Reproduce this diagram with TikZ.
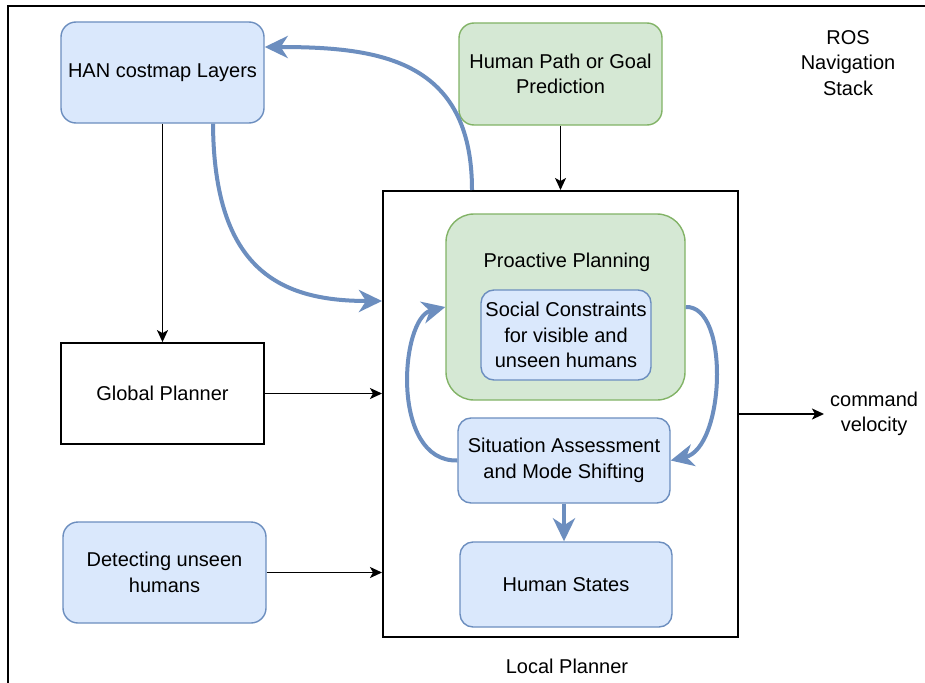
\documentclass[tikz,border=0pt]{standalone}
\usepackage{fontspec}
\setmainfont{Liberation Sans}
\usetikzlibrary{arrows.meta}
\definecolor{bfill}{HTML}{DAE8FC}
\definecolor{bdraw}{HTML}{6C8EBF}
\definecolor{gfill}{HTML}{D5E8D4}
\definecolor{gdraw}{HTML}{82B366}
\begin{document}
\begin{tikzpicture}[x=1pt,y=-1pt,
  every node/.style={font=\fontsize{20}{25.5}\selectfont, align=center, inner sep=0pt},
  box/.style={draw, line width=1.4pt, minimum width=#1},
  bluebox/.style={box=#1, fill=bfill, draw=bdraw, rounded corners=15pt},
  greenbox/.style={box=#1, fill=gfill, draw=gdraw, rounded corners=15pt},
  plainbox/.style={box=#1, draw=black, line width=1.8pt},
  blk/.style={draw=black, line width=1.7pt, -{Stealth[length=12pt,width=11pt,inset=3pt]}},
  blu/.style={draw=bdraw, line width=4pt, -{Stealth[length=23pt,width=22pt,inset=7pt]}},
  txt/.style={}
]
\clip (0,0) rectangle (925,682);
\fill[white] (0,0) rectangle (925,682);
% outer frame
\draw[line width=2pt] (8,700) -- (8,6) -- (940,6);

% nodes
\node[bluebox=203pt, minimum height=101pt] (han) at (162.5,72.5) {HAN costmap Layers};
\node[greenbox=203pt, minimum height=102pt] (pred) at (560.5,74) {Human Path or Goal\\Prediction};
\node[draw, line width=2pt, minimum width=355pt, minimum height=446pt] (local) at (560.5,414) {};
\node[greenbox=239pt, minimum height=186pt, rounded corners=28pt] (proact) at (565.5,307) {};
\node[txt] (ppl) at (567,262) {Proactive Planning};
\node[bluebox=170pt, minimum height=90pt, rounded corners=13pt] (social) at (566,335) {Social Constraints\\for visible and\\unseen humans};
\node[bluebox=212pt, minimum height=85pt, rounded corners=13pt] (sit) at (564,460.5) {Situation Assessment\\and Mode Shifting};
\node[bluebox=212pt, minimum height=85pt, rounded corners=13pt] (hs) at (566,584.5) {Human States};
\node[plainbox=203pt, minimum height=101pt] (gp) at (162.5,393.5) {Global Planner};
\node[bluebox=203pt, minimum height=101pt] (det) at (164.5,572.5) {Detecting unseen\\humans};
\node[txt] (ros) at (848,63) {ROS\\Navigation\\Stack};
\node[txt, anchor=west] (cv) at (830,414) {command\\velocity};
\node[txt] (lpl) at (567,666) {Local Planner};

% black connectors
\draw[blk] (han.south) -- (gp.north);
\draw[blk] (pred.south) -- (local.north -| pred.south);
\draw[blk] (gp.east) -- (gp.east -| local.west);
\draw[blk] (det.east) -- (det.east -| local.west);
\draw[blk] (local.east) -- ([xshift=-6pt]cv.west);

% blue connectors
\draw[blu] ([xshift=50.5pt]han.south) .. controls (214,270) and (280,301) .. ([yshift=113pt]local.west);
\draw[blu] ([xshift=-88.5pt]local.north) .. controls (472,60) and (380,47) .. ([yshift=25.5pt]han.east);
\draw[blu] (sit.west) .. controls (390,462) and (400,318) .. (proact.west);
\draw[blu] (proact.east) .. controls (730,305) and (725,448) .. (sit.east);
\draw[blu] (sit.south) -- (sit.south |- hs.north);
\end{tikzpicture}
\end{document}
